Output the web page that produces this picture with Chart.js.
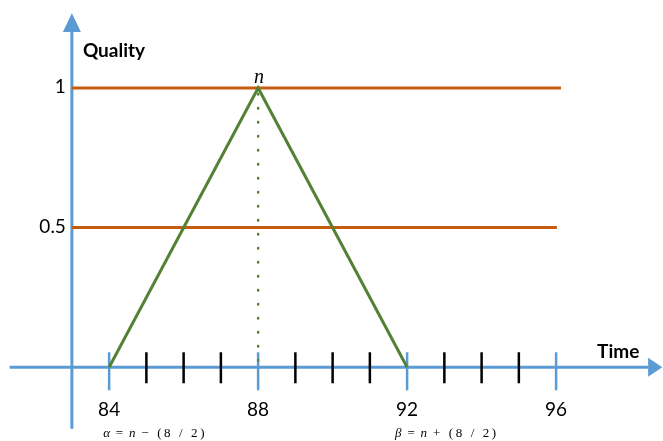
<!DOCTYPE html>
<html>
<head>
<meta charset="utf-8">
<script src="https://cdn.jsdelivr.net/npm/chart.js@4.4.1/dist/chart.umd.min.js"></script>
<style>
  body { margin: 0; background: #fff; }
  canvas { display: block; }
</style>
</head>
<body>
<canvas id="chart" width="663" height="441"></canvas>
<script>
// triangle of quality over time
let timeValues = [84, 88, 92];
let qualityValues = [0, 1, 0];

// horizontal quality levels and where each one stops
let levelValues = [1, 0.5];
let levelEnds = [96.13, 96.02];
let levelLabels = ['1', '0.5'];

// time axis ticks
let majorTicks = [84, 88, 92, 96];
let minorTicks = [85, 86, 87, 89, 90, 91, 93, 94, 95];
let peakTime = 88;
let originTime = 83;

// bounds formulas under the time axis
let boundTimes = [84, 92];
let boundFormulas = [
  [['α', true], [' = ', false], ['n', true], [' − (8 / 2)', false]],
  [['β', true], [' = ', false], ['n', true], [' + (8 / 2)', false]]
];

const BLUE = '#5b9bd5';
const ORANGE = '#c55a11';
const GREEN = '#548235';

let datasets = [{
  data: timeValues.map((t, i) => ({x: t, y: qualityValues[i]})),
  borderColor: GREEN,
  borderWidth: 3
}, {
  // dotted drop line from the peak
  data: [{x: peakTime, y: 1}, {x: peakTime, y: 0}],
  borderColor: GREEN,
  borderWidth: 2.5,
  borderDash: [0.5, 13.5],
  borderDashOffset: -6,
  borderCapStyle: 'round'
}];
levelValues.forEach((v, i) => {
  datasets.push({
    data: [{x: originTime, y: v}, {x: levelEnds[i], y: v}],
    borderColor: ORANGE,
    borderWidth: 3
  });
});

function line(ctx, x1, y1, x2, y2) {
  ctx.beginPath();
  ctx.moveTo(x1, y1);
  ctx.lineTo(x2, y2);
  ctx.stroke();
}

const axesPlugin = {
  id: 'axes',
  beforeDatasetsDraw(chart) {
    const ctx = chart.ctx;
    const x = chart.scales.x, y = chart.scales.y;
    const x0 = x.getPixelForValue(originTime);
    const y0 = y.getPixelForValue(0);
    ctx.save();
    ctx.strokeStyle = BLUE;
    ctx.fillStyle = BLUE;
    ctx.lineWidth = 3;

    // quality axis with arrow
    const yTip = y.getPixelForValue(1.268);
    const yBase = y.getPixelForValue(1.2);
    line(ctx, x0, y.getPixelForValue(-0.22), x0, yBase);
    ctx.beginPath();
    ctx.moveTo(x0 - 9, yBase);
    ctx.lineTo(x0 + 9, yBase);
    ctx.lineTo(x0, yTip);
    ctx.closePath();
    ctx.fill();

    // time axis with arrow
    const xTip = x.getPixelForValue(98.85);
    const xBase = x.getPixelForValue(98.47);
    line(ctx, x.getPixelForValue(81.33), y0, xBase, y0);
    ctx.beginPath();
    ctx.moveTo(xBase, y0 - 9.5);
    ctx.lineTo(xBase, y0 + 9.5);
    ctx.lineTo(xTip, y0);
    ctx.closePath();
    ctx.fill();

    // ticks
    ctx.lineWidth = 2.5;
    majorTicks.forEach(t => {
      const px = x.getPixelForValue(t);
      line(ctx, px, y0 - 15, px, y0 + 23);
    });
    ctx.strokeStyle = '#000';
    minorTicks.forEach(t => {
      const px = x.getPixelForValue(t);
      line(ctx, px, y0 - 15, px, y0 + 16);
    });
    ctx.restore();
  },
  afterDatasetsDraw(chart) {
    const ctx = chart.ctx;
    const x = chart.scales.x, y = chart.scales.y;
    const x0 = x.getPixelForValue(originTime);
    const y0 = y.getPixelForValue(0);
    ctx.save();
    ctx.fillStyle = '#000';
    ctx.textBaseline = 'middle';

    // level labels
    ctx.font = '19px Lato';
    ctx.textAlign = 'right';
    levelValues.forEach((v, i) => {
      ctx.fillText(levelLabels[i], x0 - 6, y.getPixelForValue(v) - 1);
    });

    // time tick labels
    ctx.textAlign = 'center';
    majorTicks.forEach(t => {
      ctx.fillText(String(t), x.getPixelForValue(t), y0 + 43);
    });

    // axis titles
    ctx.font = 'bold 19px Lato';
    ctx.textAlign = 'left';
    ctx.fillText('Quality', x0 + 11, 51);
    ctx.fillText('Time', x.getPixelForValue(96) + 41, y0 - 15);

    // peak marker
    ctx.font = 'italic 20px "Liberation Serif"';
    ctx.textAlign = 'center';
    ctx.textBaseline = 'alphabetic';
    ctx.fillText('n', x.getPixelForValue(peakTime) + 1, y.getPixelForValue(1) - 5);

    // bound formulas
    boundTimes.forEach((t, i) => {
      let px = x.getPixelForValue(t) - (i === 0 ? 6 : 12);
      ctx.textAlign = 'left';
      boundFormulas[i].forEach(([txt, it]) => {
        ctx.font = (it ? 'italic ' : '') + '13px "Liberation Serif"';
        const spaced = txt.split('').join('\u2009');
        ctx.fillText(spaced, px, y0 + 70);
        px += ctx.measureText(spaced).width;
      });
    });
    ctx.restore();
  }
};

new Chart(document.getElementById('chart'), {
  type: 'scatter',
  data: {datasets: datasets},
  options: {
    responsive: false,
    animation: false,
    devicePixelRatio: 1,
    showLine: true,
    layout: {padding: 0},
    elements: {point: {radius: 0, hoverRadius: 0}, line: {tension: 0}},
    plugins: {legend: {display: false}, tooltip: {enabled: false}},
    scales: {
      x: {type: 'linear', min: 81.07, max: 98.87, display: false},
      y: {type: 'linear', min: -0.264, max: 1.315, display: false}
    }
  },
  plugins: [axesPlugin]
});
</script>
</body>
</html>
